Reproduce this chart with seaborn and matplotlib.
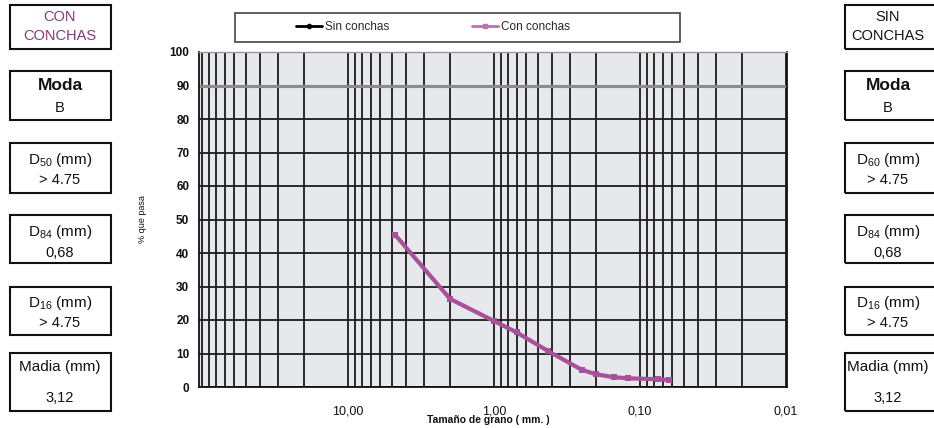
import numpy as np
import pandas as pd
import matplotlib
matplotlib.use("Agg")
import matplotlib.pyplot as plt
from matplotlib.patches import Rectangle
from matplotlib.lines import Line2D
from matplotlib.ticker import FixedLocator, FixedFormatter, NullFormatter
import seaborn as sns

# ---------------- data ----------------
sizes_mm = [4.75, 2.0, 1.0, 0.70, 0.425, 0.25, 0.20, 0.15, 0.12, 0.075, 0.063]
pct_con = [45.4, 26.3, 19.7, 16.3, 10.7, 5.1, 3.8, 2.9, 2.6, 2.3, 2.1]
series_names = ["Sin conchas", "Con conchas"]
x_major = [10, 1, 0.1, 0.01]
x_major_labels = ["10,00", "1,00", "0,10", "0,01"]
y_ticks = [0, 10, 20, 30, 40, 50, 60, 70, 80, 90, 100]

left_title = ["CON", "CONCHAS"]
right_title = ["SIN", "CONCHAS"]
box_labels_left = ["Moda", "D$_{50}$ (mm)", "D$_{84}$ (mm)", "D$_{16}$ (mm)", "Madia (mm)"]
box_labels_right = ["Moda", "D$_{60}$ (mm)", "D$_{84}$ (mm)", "D$_{16}$ (mm)", "Madia (mm)"]
box_values = ["B", "> 4.75", "0,68", "> 4.75", "3,12"]

# ---------------- style ----------------
sns.set_style("white")
plt.rcParams["font.family"] = ["Liberation Sans", "DejaVu Sans"]
plt.rcParams["mathtext.default"] = "regular"

W, H = 934, 428
fig = plt.figure(figsize=(W / 100, H / 100), dpi=100)

def fx(px):
    return px / W

def fy(py):
    return 1 - py / H

# plot area: x 199..787, y 52..387
ax = fig.add_axes([fx(199), fy(387), fx(787) - fx(199), fy(52) - fy(387)])
ax.set_facecolor("#e6e8eb")

df = pd.DataFrame({"size": sizes_mm, "pct": pct_con, "serie": "Con conchas"})
purple = "#a9509b"
sns.lineplot(data=df, x="size", y="pct", ax=ax, color=purple, lw=3.0,
             marker="s", markersize=4.5, markeredgewidth=0, sort=False,
             estimator=None, zorder=5, legend=False)

ax.set_xscale("log")
ax.set_xlim(104.8, 0.00985)
ax.set_ylim(0, 100)

minors = [100]
for dec in [10, 1, 0.1, 0.01]:
    for k in range(2, 10):
        minors.append(k * dec)
ax.xaxis.set_major_locator(FixedLocator(x_major))
ax.xaxis.set_major_formatter(FixedFormatter(x_major_labels))
ax.xaxis.set_minor_locator(FixedLocator(minors))
ax.xaxis.set_minor_formatter(NullFormatter())
ax.set_yticks(y_ticks)

ax.grid(which="both", axis="x", color="#1c1c1c", lw=1.3, zorder=1)
ax.grid(which="major", axis="y", color="#1c1c1c", lw=1.3, zorder=1)
ax.set_axisbelow(True)
ax.axhline(90, color="#8c8c8c", lw=2.2, zorder=2)

ax.tick_params(axis="x", which="major", length=4, width=1, direction="out",
               labelsize=9, pad=9, colors="#111111")
ax.tick_params(axis="x", which="minor", length=0)
ax.tick_params(axis="y", which="major", length=4, width=1, direction="out",
               labelsize=8.5, pad=3, colors="#111111")
for lab in ax.get_yticklabels():
    lab.set_fontweight("bold")

for s in ["left", "bottom", "right"]:
    ax.spines[s].set_color("#111111")
    ax.spines[s].set_linewidth(1.3)
ax.spines["top"].set_color("#9a9a9a")
ax.spines["top"].set_linewidth(1.0)

ax.set_xlabel("Tamaño de grano ( mm. )", fontsize=7.5, fontweight="bold",
              labelpad=-1, color="#111111")
ax.xaxis.set_label_coords((488 - 199) / 588, -0.085)
ax.set_ylabel("% que pasa", fontsize=6.5, color="#111111")
ax.yaxis.set_label_coords(-(199 - 147) / 588, 0.5)

# ---------------- legend ----------------
fig.add_artist(Rectangle((fx(235), fy(42)), fx(680) - fx(235), fy(13) - fy(42),
                         transform=fig.transFigure, fill=True, facecolor="white",
                         edgecolor="#444444", lw=1.2))
handles = [
    Line2D([], [], color="black", lw=2.0, marker="o", markersize=3),
    Line2D([], [], color="#c070b0", lw=2.0, marker="s", markersize=3),
]
fig.legend(handles, series_names, loc="center", bbox_to_anchor=(fx(433), fy(27)),
           ncol=2, frameon=False, fontsize=8.5, handlelength=2.2, handletextpad=0.25,
           columnspacing=7.0)

# ---------------- side boxes ----------------
box_y = [(5, 49), (71, 120), (143, 193), (215, 263), (287, 335), (353, 411)]

def draw_boxes(x0, x1, cx, title, labels, title_color):
    for (y0, y1) in box_y:
        fig.add_artist(Rectangle((fx(x0), fy(y1)), fx(x1) - fx(x0), fy(y0) - fy(y1),
                                 transform=fig.transFigure, fill=False,
                                 edgecolor="#111111", lw=1.5))
    fig.text(fx(cx), fy(17), title[0], ha="center", va="center", fontsize=10.5,
             color=title_color)
    fig.text(fx(cx), fy(36), title[1], ha="center", va="center", fontsize=10.5,
             color=title_color)
    top_y = [85, 160, 232, 303, 367]
    bot_y = [108, 180, 253, 323, 398]
    for i, (lab, val) in enumerate(zip(labels, box_values)):
        if i == 0:
            fig.text(fx(cx), fy(top_y[i]), lab, ha="center", va="center",
                     fontsize=12.5, fontweight="bold", color="#111111")
        else:
            fig.text(fx(cx), fy(top_y[i]), lab, ha="center", va="center",
                     fontsize=11, color="#111111")
        fig.text(fx(cx), fy(bot_y[i]), val, ha="center", va="center",
                 fontsize=10.5, color="#111111")

draw_boxes(10, 111, 60, left_title, box_labels_left, "#83397f")
draw_boxes(845, 945, 888, right_title, box_labels_right, "#111111")

fig.savefig("out.png", dpi=100)
